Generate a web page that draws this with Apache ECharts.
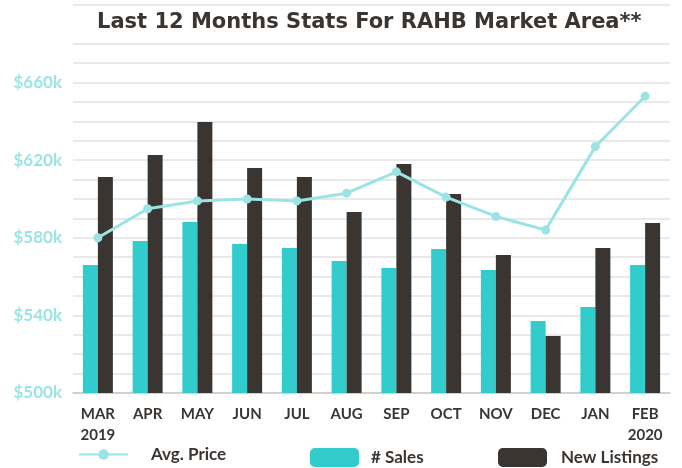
<!DOCTYPE html>
<html>
<head>
<meta charset="utf-8">
<script src="https://cdn.jsdelivr.net/npm/echarts@6/dist/echarts.min.js"></script>
<style>
  html, body { margin: 0; padding: 0; background: #fff; }
  #chart { width: 682px; height: 468px; }
</style>
</head>
<body>
<div id="chart"></div>
<script>
const months = ['MAR\n2019', 'APR', 'MAY', 'JUN', 'JUL', 'AUG', 'SEP', 'OCT', 'NOV', 'DEC', 'JAN', 'FEB\n2020']
// average price, thousands of dollars
const avgPrice = [580, 595, 599, 600, 599, 603, 614, 601, 591, 584, 627, 653]
// counts (secondary axis, not labelled in the original)
const sales = [640, 760, 855, 745, 725, 660, 625, 720, 615, 360, 430, 640]
const newListings = [1080, 1190, 1355, 1125, 1080, 905, 1145, 995, 690, 285, 725, 850]
const priceTicks = [500, 540, 580, 620, 660]

const FONT = 'Lato, "DejaVu Sans", sans-serif'
const TEAL = '#33CCCC'
const DARK = '#3B3531'
const LIGHT = '#9CE4E4'

// split line every $10k; the one at $690k sits behind the title
const splitColors = []
for (let v = 500; v <= 700; v += 10) splitColors.push(v === 690 ? 'rgba(0,0,0,0)' : '#E2E2E2')

const chart = echarts.init(document.getElementById('chart'))

const legendText = { color: DARK, fontSize: 17, fontWeight: 'bold', fontFamily: FONT }

chart.setOption({
  animation: false,
  title: {
    text: 'Last 12 Months Stats For RAHB Market Area**',
    left: 97,
    top: 12,
    padding: 0,
    textStyle: { color: DARK, fontSize: 21, fontWeight: 'bold', fontFamily: '"DejaVu Sans", sans-serif' }
  },
  legend: [
    {
      data: ['Avg. Price'],
      left: 78, top: 446,
      padding: 0,
      itemWidth: 49, itemHeight: 13,
      textStyle: Object.assign({ padding: [0, 0, 0, 18] }, legendText)
    },
    {
      data: ['# Sales'],
      left: 310, top: 448,
      padding: 0,
      itemWidth: 49, itemHeight: 19,
      textStyle: Object.assign({ padding: [0, 0, 0, 7] }, legendText)
    },
    {
      data: ['New Listings'],
      left: 498, top: 448,
      padding: 0,
      itemWidth: 49, itemHeight: 19,
      textStyle: Object.assign({ padding: [0, 0, 0, 9] }, legendText)
    }
  ],
  grid: { left: 73, right: 12, top: 5, bottom: 75 },
  xAxis: {
    type: 'category',
    data: months,
    axisTick: { show: false },
    axisLine: { lineStyle: { color: '#C8C8C8', width: 1.5 } },
    axisLabel: {
      color: DARK, fontSize: 15, fontWeight: 'bold', fontFamily: FONT,
      margin: 11, lineHeight: 21, interval: 0
    }
  },
  yAxis: [
    {
      type: 'value',
      min: 500, max: 700, interval: 10,
      axisLine: { show: false },
      axisTick: { show: false },
      splitLine: { lineStyle: { color: splitColors, width: 1.5 } },
      axisLabel: {
        color: LIGHT, fontSize: 17, fontWeight: 'bold', fontFamily: FONT, margin: 11,
        formatter: v => priceTicks.includes(v) ? '$' + v + 'k' : ''
      }
    },
    {
      type: 'value',
      min: 0, max: 1940,
      show: false,
      splitLine: { show: false }
    }
  ],
  series: [
    {
      name: '# Sales',
      type: 'bar',
      yAxisIndex: 1,
      data: sales,
      barWidth: 15,
      barGap: '0%',
      itemStyle: { color: TEAL }
    },
    {
      name: 'New Listings',
      type: 'bar',
      yAxisIndex: 1,
      data: newListings,
      barWidth: 15,
      itemStyle: { color: DARK }
    },
    {
      name: 'Avg. Price',
      type: 'line',
      yAxisIndex: 0,
      data: avgPrice,
      symbol: 'circle',
      symbolSize: 9,
      lineStyle: { color: LIGHT, width: 3 },
      itemStyle: { color: LIGHT }
    }
  ]
})
</script>
</body>
</html>
